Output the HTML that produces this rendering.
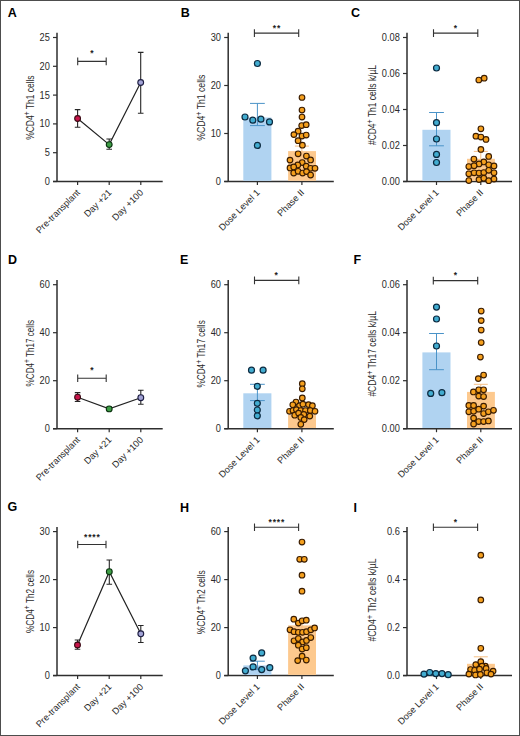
<!DOCTYPE html><html><head><meta charset="utf-8"><style>html,body{margin:0;padding:0;background:#fff}body{width:520px;height:736px;overflow:hidden}svg{display:block}text{font-family:"Liberation Sans",sans-serif}</style></head><body>
<svg width="520" height="736" viewBox="0 0 520 736">
<rect x="0" y="0" width="520" height="736" fill="#fff"/>
<rect x="0.5" y="0.5" width="519" height="735" fill="none" stroke="#4d4d4d" stroke-width="1"/>
<text x="7.7" y="16.8" font-size="12.5" font-weight="bold" fill="#000">A</text>
<text x="180.8" y="16.8" font-size="12.5" font-weight="bold" fill="#000">B</text>
<text x="351" y="16.9" font-size="12.5" font-weight="bold" fill="#000">C</text>
<text x="8" y="264.1" font-size="12.5" font-weight="bold" fill="#000">D</text>
<text x="180" y="264.3" font-size="12.5" font-weight="bold" fill="#000">E</text>
<text x="353.4" y="264.2" font-size="12.5" font-weight="bold" fill="#000">F</text>
<text x="7.5" y="511.3" font-size="12.5" font-weight="bold" fill="#000">G</text>
<text x="180" y="511.7" font-size="12.5" font-weight="bold" fill="#000">H</text>
<text x="353.6" y="511.7" font-size="12.5" font-weight="bold" fill="#000">I</text>
<line x1="57" y1="181.5" x2="57" y2="32.8" stroke="#2e2e2e" stroke-width="1.5"/>
<line x1="53" y1="181.5" x2="162.7" y2="181.5" stroke="#2e2e2e" stroke-width="1.5"/>
<line x1="53" y1="181.5" x2="57" y2="181.5" stroke="#2e2e2e" stroke-width="1.2"/>
<text x="49.8" y="185" text-anchor="end" font-size="10.2" fill="#2a2a2a" textLength="5.14" lengthAdjust="spacingAndGlyphs">0</text>
<line x1="53" y1="152.7" x2="57" y2="152.7" stroke="#2e2e2e" stroke-width="1.2"/>
<text x="49.8" y="156.2" text-anchor="end" font-size="10.2" fill="#2a2a2a" textLength="5.14" lengthAdjust="spacingAndGlyphs">5</text>
<line x1="53" y1="123.9" x2="57" y2="123.9" stroke="#2e2e2e" stroke-width="1.2"/>
<text x="49.8" y="127.4" text-anchor="end" font-size="10.2" fill="#2a2a2a" textLength="10.29" lengthAdjust="spacingAndGlyphs">10</text>
<line x1="53" y1="95.1" x2="57" y2="95.1" stroke="#2e2e2e" stroke-width="1.2"/>
<text x="49.8" y="98.6" text-anchor="end" font-size="10.2" fill="#2a2a2a" textLength="10.29" lengthAdjust="spacingAndGlyphs">15</text>
<line x1="53" y1="66.3" x2="57" y2="66.3" stroke="#2e2e2e" stroke-width="1.2"/>
<text x="49.8" y="69.8" text-anchor="end" font-size="10.2" fill="#2a2a2a" textLength="10.29" lengthAdjust="spacingAndGlyphs">20</text>
<line x1="53" y1="37.5" x2="57" y2="37.5" stroke="#2e2e2e" stroke-width="1.2"/>
<text x="49.8" y="41" text-anchor="end" font-size="10.2" fill="#2a2a2a" textLength="10.29" lengthAdjust="spacingAndGlyphs">25</text>
<line x1="77.6" y1="181.5" x2="77.6" y2="185" stroke="#2e2e2e" stroke-width="1.2"/>
<line x1="109.2" y1="181.5" x2="109.2" y2="185" stroke="#2e2e2e" stroke-width="1.2"/>
<line x1="140.8" y1="181.5" x2="140.8" y2="185" stroke="#2e2e2e" stroke-width="1.2"/>
<text x="80.6" y="193.2" text-anchor="end" font-size="9.2" fill="#2a2a2a" transform="rotate(-45 80.6 193.2)">Pre-transplant</text>
<text x="112.2" y="193.2" text-anchor="end" font-size="9.2" fill="#2a2a2a" transform="rotate(-45 112.2 193.2)">Day +21</text>
<text x="143.8" y="193.2" text-anchor="end" font-size="9.2" fill="#2a2a2a" transform="rotate(-45 143.8 193.2)">Day +100</text>
<text x="33.8" y="107.6" text-anchor="middle" font-size="10.5" fill="#2a2a2a" textLength="64.4" lengthAdjust="spacingAndGlyphs" transform="rotate(-90 33.8 107.6)">%CD4<tspan font-size="8.5" dy="-3.4">+</tspan><tspan dy="3.4"> Th1 cells</tspan></text>
<path d="M77.7 57.6V65.2M77.7 61.4H106.2M106.2 57.6V65.2" stroke="#333" stroke-width="1.1" fill="none"/>
<text x="92" y="56.3" text-anchor="middle" font-size="8.5" font-weight="bold" fill="#222">*</text>
<polyline points="77.6,118.5 109.2,144.6 140.7,82.5" fill="none" stroke="#222" stroke-width="1.2"/>
<path d="M77.6 109.6V127.3M74.8 109.6H80.4M74.8 127.3H80.4" stroke="#262626" stroke-width="1.1" fill="none"/>
<path d="M109.2 139V149.2M106.4 139H112M106.4 149.2H112" stroke="#262626" stroke-width="1.1" fill="none"/>
<path d="M140.7 52.4V113.3M137.9 52.4H143.5M137.9 113.3H143.5" stroke="#262626" stroke-width="1.1" fill="none"/>
<circle cx="77.6" cy="118.5" r="2.9" fill="#c8154a" stroke="#3a0a14" stroke-width="1.1"/>
<circle cx="109.2" cy="144.6" r="2.9" fill="#3e9e46" stroke="#0b3310" stroke-width="1.1"/>
<circle cx="140.7" cy="82.5" r="2.9" fill="#a2a3d6" stroke="#1c1c40" stroke-width="1.1"/>
<line x1="57" y1="428.7" x2="57" y2="280" stroke="#2e2e2e" stroke-width="1.5"/>
<line x1="53" y1="428.7" x2="162.7" y2="428.7" stroke="#2e2e2e" stroke-width="1.5"/>
<line x1="53" y1="428.7" x2="57" y2="428.7" stroke="#2e2e2e" stroke-width="1.2"/>
<text x="49.8" y="432.2" text-anchor="end" font-size="10.2" fill="#2a2a2a" textLength="5.14" lengthAdjust="spacingAndGlyphs">0</text>
<line x1="53" y1="380.7" x2="57" y2="380.7" stroke="#2e2e2e" stroke-width="1.2"/>
<text x="49.8" y="384.2" text-anchor="end" font-size="10.2" fill="#2a2a2a" textLength="10.29" lengthAdjust="spacingAndGlyphs">20</text>
<line x1="53" y1="332.7" x2="57" y2="332.7" stroke="#2e2e2e" stroke-width="1.2"/>
<text x="49.8" y="336.2" text-anchor="end" font-size="10.2" fill="#2a2a2a" textLength="10.29" lengthAdjust="spacingAndGlyphs">40</text>
<line x1="53" y1="284.7" x2="57" y2="284.7" stroke="#2e2e2e" stroke-width="1.2"/>
<text x="49.8" y="288.2" text-anchor="end" font-size="10.2" fill="#2a2a2a" textLength="10.29" lengthAdjust="spacingAndGlyphs">60</text>
<line x1="77.6" y1="428.7" x2="77.6" y2="432.2" stroke="#2e2e2e" stroke-width="1.2"/>
<line x1="109.2" y1="428.7" x2="109.2" y2="432.2" stroke="#2e2e2e" stroke-width="1.2"/>
<line x1="140.8" y1="428.7" x2="140.8" y2="432.2" stroke="#2e2e2e" stroke-width="1.2"/>
<text x="80.6" y="440.4" text-anchor="end" font-size="9.2" fill="#2a2a2a" transform="rotate(-45 80.6 440.4)">Pre-transplant</text>
<text x="112.2" y="440.4" text-anchor="end" font-size="9.2" fill="#2a2a2a" transform="rotate(-45 112.2 440.4)">Day +21</text>
<text x="143.8" y="440.4" text-anchor="end" font-size="9.2" fill="#2a2a2a" transform="rotate(-45 143.8 440.4)">Day +100</text>
<text x="33.8" y="353.2" text-anchor="middle" font-size="10.5" fill="#2a2a2a" textLength="66.4" lengthAdjust="spacingAndGlyphs" transform="rotate(-90 33.8 353.2)">%CD4<tspan font-size="8.5" dy="-3.4">+</tspan><tspan dy="3.4"> Th17 cells</tspan></text>
<path d="M77.7 374.4V382M77.7 378.2H106.2M106.2 374.4V382" stroke="#333" stroke-width="1.1" fill="none"/>
<text x="92" y="373.2" text-anchor="middle" font-size="8.5" font-weight="bold" fill="#222">*</text>
<polyline points="77.6,397.2 109.2,408.9 140.8,397.7" fill="none" stroke="#222" stroke-width="1.2"/>
<path d="M77.6 392.6V401.5M74.8 392.6H80.4M74.8 401.5H80.4" stroke="#262626" stroke-width="1.1" fill="none"/>
<path d="M109.2 407.2V410.6M106.4 407.2H112M106.4 410.6H112" stroke="#262626" stroke-width="1.1" fill="none"/>
<path d="M140.8 390.3V404.3M138 390.3H143.6M138 404.3H143.6" stroke="#262626" stroke-width="1.1" fill="none"/>
<circle cx="77.6" cy="397.2" r="2.9" fill="#c8154a" stroke="#3a0a14" stroke-width="1.1"/>
<circle cx="109.2" cy="408.9" r="2.9" fill="#3e9e46" stroke="#0b3310" stroke-width="1.1"/>
<circle cx="140.8" cy="397.7" r="2.9" fill="#a2a3d6" stroke="#1c1c40" stroke-width="1.1"/>
<line x1="57" y1="675.6" x2="57" y2="526.9" stroke="#2e2e2e" stroke-width="1.5"/>
<line x1="53" y1="675.6" x2="162.7" y2="675.6" stroke="#2e2e2e" stroke-width="1.5"/>
<line x1="53" y1="675.6" x2="57" y2="675.6" stroke="#2e2e2e" stroke-width="1.2"/>
<text x="49.8" y="679.1" text-anchor="end" font-size="10.2" fill="#2a2a2a" textLength="5.14" lengthAdjust="spacingAndGlyphs">0</text>
<line x1="53" y1="627.6" x2="57" y2="627.6" stroke="#2e2e2e" stroke-width="1.2"/>
<text x="49.8" y="631.1" text-anchor="end" font-size="10.2" fill="#2a2a2a" textLength="10.29" lengthAdjust="spacingAndGlyphs">10</text>
<line x1="53" y1="579.6" x2="57" y2="579.6" stroke="#2e2e2e" stroke-width="1.2"/>
<text x="49.8" y="583.1" text-anchor="end" font-size="10.2" fill="#2a2a2a" textLength="10.29" lengthAdjust="spacingAndGlyphs">20</text>
<line x1="53" y1="531.6" x2="57" y2="531.6" stroke="#2e2e2e" stroke-width="1.2"/>
<text x="49.8" y="535.1" text-anchor="end" font-size="10.2" fill="#2a2a2a" textLength="10.29" lengthAdjust="spacingAndGlyphs">30</text>
<line x1="77.6" y1="675.6" x2="77.6" y2="679.1" stroke="#2e2e2e" stroke-width="1.2"/>
<line x1="109.2" y1="675.6" x2="109.2" y2="679.1" stroke="#2e2e2e" stroke-width="1.2"/>
<line x1="140.8" y1="675.6" x2="140.8" y2="679.1" stroke="#2e2e2e" stroke-width="1.2"/>
<text x="80.6" y="687.3" text-anchor="end" font-size="9.2" fill="#2a2a2a" transform="rotate(-45 80.6 687.3)">Pre-transplant</text>
<text x="112.2" y="687.3" text-anchor="end" font-size="9.2" fill="#2a2a2a" transform="rotate(-45 112.2 687.3)">Day +21</text>
<text x="143.8" y="687.3" text-anchor="end" font-size="9.2" fill="#2a2a2a" transform="rotate(-45 143.8 687.3)">Day +100</text>
<text x="33.8" y="601.5" text-anchor="middle" font-size="10.5" fill="#2a2a2a" textLength="63.1" lengthAdjust="spacingAndGlyphs" transform="rotate(-90 33.8 601.5)">%CD4<tspan font-size="8.5" dy="-3.4">+</tspan><tspan dy="3.4"> Th2 cells</tspan></text>
<path d="M77.7 540.7V548.3M77.7 544.5H106M106 540.7V548.3" stroke="#333" stroke-width="1.1" fill="none"/>
<text x="85.68" y="539.6" text-anchor="middle" font-size="8.5" font-weight="bold" fill="#222">*</text>
<text x="89.83" y="539.6" text-anchor="middle" font-size="8.5" font-weight="bold" fill="#222">*</text>
<text x="93.98" y="539.6" text-anchor="middle" font-size="8.5" font-weight="bold" fill="#222">*</text>
<text x="98.12" y="539.6" text-anchor="middle" font-size="8.5" font-weight="bold" fill="#222">*</text>
<polyline points="77.5,645 109.3,571.7 140.8,633.8" fill="none" stroke="#222" stroke-width="1.2"/>
<path d="M77.5 640V649.3M74.7 640H80.3M74.7 649.3H80.3" stroke="#262626" stroke-width="1.1" fill="none"/>
<path d="M109.3 560V584.2M106.5 560H112.1M106.5 584.2H112.1" stroke="#262626" stroke-width="1.1" fill="none"/>
<path d="M140.8 625.5V642.5M138 625.5H143.6M138 642.5H143.6" stroke="#262626" stroke-width="1.1" fill="none"/>
<circle cx="77.5" cy="645" r="2.9" fill="#c8154a" stroke="#3a0a14" stroke-width="1.1"/>
<circle cx="109.3" cy="571.7" r="2.9" fill="#3e9e46" stroke="#0b3310" stroke-width="1.1"/>
<circle cx="140.8" cy="633.8" r="2.9" fill="#a2a3d6" stroke="#1c1c40" stroke-width="1.1"/>
<line x1="228.2" y1="181.5" x2="228.2" y2="32.8" stroke="#2e2e2e" stroke-width="1.5"/>
<line x1="224.2" y1="181.5" x2="333.8" y2="181.5" stroke="#2e2e2e" stroke-width="1.5"/>
<line x1="224.2" y1="181.5" x2="228.2" y2="181.5" stroke="#2e2e2e" stroke-width="1.2"/>
<text x="221" y="185" text-anchor="end" font-size="10.2" fill="#2a2a2a" textLength="5.14" lengthAdjust="spacingAndGlyphs">0</text>
<line x1="224.2" y1="133.5" x2="228.2" y2="133.5" stroke="#2e2e2e" stroke-width="1.2"/>
<text x="221" y="137" text-anchor="end" font-size="10.2" fill="#2a2a2a" textLength="10.29" lengthAdjust="spacingAndGlyphs">10</text>
<line x1="224.2" y1="85.5" x2="228.2" y2="85.5" stroke="#2e2e2e" stroke-width="1.2"/>
<text x="221" y="89" text-anchor="end" font-size="10.2" fill="#2a2a2a" textLength="10.29" lengthAdjust="spacingAndGlyphs">20</text>
<line x1="224.2" y1="37.5" x2="228.2" y2="37.5" stroke="#2e2e2e" stroke-width="1.2"/>
<text x="221" y="41" text-anchor="end" font-size="10.2" fill="#2a2a2a" textLength="10.29" lengthAdjust="spacingAndGlyphs">30</text>
<line x1="257.4" y1="181.5" x2="257.4" y2="185" stroke="#2e2e2e" stroke-width="1.2"/>
<line x1="301.9" y1="181.5" x2="301.9" y2="185" stroke="#2e2e2e" stroke-width="1.2"/>
<text x="260.4" y="193.2" text-anchor="end" font-size="9.2" fill="#2a2a2a" transform="rotate(-45 260.4 193.2)">Dose Level 1</text>
<text x="304.9" y="193.2" text-anchor="end" font-size="9.2" fill="#2a2a2a" transform="rotate(-45 304.9 193.2)">Phase II</text>
<text x="205" y="107.7" text-anchor="middle" font-size="10.5" fill="#2a2a2a" textLength="66.2" lengthAdjust="spacingAndGlyphs" transform="rotate(-90 205 107.7)">%CD4<tspan font-size="8.5" dy="-3.4">+</tspan><tspan dy="3.4"> Th1 cells</tspan></text>
<path d="M254.4 29.3V36.9M254.4 33.1H298.7M298.7 29.3V36.9" stroke="#333" stroke-width="1.1" fill="none"/>
<text x="274.43" y="30.6" text-anchor="middle" font-size="8.5" font-weight="bold" fill="#222">*</text>
<text x="278.57" y="30.6" text-anchor="middle" font-size="8.5" font-weight="bold" fill="#222">*</text>
<rect x="243.3" y="117.5" width="28.1" height="63.3" fill="#b0d3f1"/>
<rect x="288.1" y="151.1" width="27.9" height="29.7" fill="#fdc98e"/>
<path d="M257.4 103.4V125.6M250 103.4H264.8M250 125.6H264.8" stroke="#4a93c8" stroke-width="1.0" fill="none"/>
<path d="M301.9 146.1V156M294.9 146.1H308.9M294.9 156H308.9" stroke="#f6bf84" stroke-width="1.0" fill="none"/>
<circle cx="257.4" cy="63.5" r="3.0" fill="#42acd0" stroke="#0c2a40" stroke-width="1.2"/>
<circle cx="245" cy="117" r="3.0" fill="#42acd0" stroke="#0c2a40" stroke-width="1.2"/>
<circle cx="252.8" cy="120.2" r="3.0" fill="#42acd0" stroke="#0c2a40" stroke-width="1.2"/>
<circle cx="260.9" cy="119.2" r="3.0" fill="#42acd0" stroke="#0c2a40" stroke-width="1.2"/>
<circle cx="269.5" cy="121.9" r="3.0" fill="#42acd0" stroke="#0c2a40" stroke-width="1.2"/>
<circle cx="257.4" cy="145.4" r="3.0" fill="#42acd0" stroke="#0c2a40" stroke-width="1.2"/>
<circle cx="302" cy="97.5" r="2.8" fill="#f5a01e" stroke="#3a1c00" stroke-width="1.15"/>
<circle cx="302" cy="110.1" r="2.8" fill="#f5a01e" stroke="#3a1c00" stroke-width="1.15"/>
<circle cx="302" cy="117.1" r="2.8" fill="#f5a01e" stroke="#3a1c00" stroke-width="1.15"/>
<circle cx="301.7" cy="125.5" r="2.8" fill="#f5a01e" stroke="#3a1c00" stroke-width="1.15"/>
<circle cx="306.2" cy="124.7" r="2.8" fill="#f5a01e" stroke="#3a1c00" stroke-width="1.15"/>
<circle cx="298.1" cy="131.2" r="2.8" fill="#f5a01e" stroke="#3a1c00" stroke-width="1.15"/>
<circle cx="293.9" cy="134.6" r="2.8" fill="#f5a01e" stroke="#3a1c00" stroke-width="1.15"/>
<circle cx="302" cy="136" r="2.8" fill="#f5a01e" stroke="#3a1c00" stroke-width="1.15"/>
<circle cx="306.2" cy="135" r="2.8" fill="#f5a01e" stroke="#3a1c00" stroke-width="1.15"/>
<circle cx="298.1" cy="140.7" r="2.8" fill="#f5a01e" stroke="#3a1c00" stroke-width="1.15"/>
<circle cx="302.4" cy="145.2" r="2.8" fill="#f5a01e" stroke="#3a1c00" stroke-width="1.15"/>
<circle cx="298.1" cy="153.8" r="2.8" fill="#f5a01e" stroke="#3a1c00" stroke-width="1.15"/>
<circle cx="306.4" cy="156" r="2.8" fill="#f5a01e" stroke="#3a1c00" stroke-width="1.15"/>
<circle cx="290" cy="160.1" r="2.8" fill="#f5a01e" stroke="#3a1c00" stroke-width="1.15"/>
<circle cx="310.6" cy="159.9" r="2.8" fill="#f5a01e" stroke="#3a1c00" stroke-width="1.15"/>
<circle cx="302.2" cy="162.5" r="2.8" fill="#f5a01e" stroke="#3a1c00" stroke-width="1.15"/>
<circle cx="297.8" cy="164.9" r="2.8" fill="#f5a01e" stroke="#3a1c00" stroke-width="1.15"/>
<circle cx="306.2" cy="166.2" r="2.8" fill="#f5a01e" stroke="#3a1c00" stroke-width="1.15"/>
<circle cx="290" cy="167.9" r="2.8" fill="#f5a01e" stroke="#3a1c00" stroke-width="1.15"/>
<circle cx="293.7" cy="166.9" r="2.8" fill="#f5a01e" stroke="#3a1c00" stroke-width="1.15"/>
<circle cx="310.6" cy="168.3" r="2.8" fill="#f5a01e" stroke="#3a1c00" stroke-width="1.15"/>
<circle cx="315" cy="168.3" r="2.8" fill="#f5a01e" stroke="#3a1c00" stroke-width="1.15"/>
<circle cx="293.7" cy="173" r="2.8" fill="#f5a01e" stroke="#3a1c00" stroke-width="1.15"/>
<circle cx="298.1" cy="171.3" r="2.8" fill="#f5a01e" stroke="#3a1c00" stroke-width="1.15"/>
<circle cx="302.6" cy="173" r="2.8" fill="#f5a01e" stroke="#3a1c00" stroke-width="1.15"/>
<circle cx="306.5" cy="171.6" r="2.8" fill="#f5a01e" stroke="#3a1c00" stroke-width="1.15"/>
<circle cx="310.6" cy="175" r="2.8" fill="#f5a01e" stroke="#3a1c00" stroke-width="1.15"/>
<line x1="228.2" y1="428.7" x2="228.2" y2="280" stroke="#2e2e2e" stroke-width="1.5"/>
<line x1="224.2" y1="428.7" x2="333.8" y2="428.7" stroke="#2e2e2e" stroke-width="1.5"/>
<line x1="224.2" y1="428.7" x2="228.2" y2="428.7" stroke="#2e2e2e" stroke-width="1.2"/>
<text x="221" y="432.2" text-anchor="end" font-size="10.2" fill="#2a2a2a" textLength="5.14" lengthAdjust="spacingAndGlyphs">0</text>
<line x1="224.2" y1="380.7" x2="228.2" y2="380.7" stroke="#2e2e2e" stroke-width="1.2"/>
<text x="221" y="384.2" text-anchor="end" font-size="10.2" fill="#2a2a2a" textLength="10.29" lengthAdjust="spacingAndGlyphs">20</text>
<line x1="224.2" y1="332.7" x2="228.2" y2="332.7" stroke="#2e2e2e" stroke-width="1.2"/>
<text x="221" y="336.2" text-anchor="end" font-size="10.2" fill="#2a2a2a" textLength="10.29" lengthAdjust="spacingAndGlyphs">40</text>
<line x1="224.2" y1="284.7" x2="228.2" y2="284.7" stroke="#2e2e2e" stroke-width="1.2"/>
<text x="221" y="288.2" text-anchor="end" font-size="10.2" fill="#2a2a2a" textLength="10.29" lengthAdjust="spacingAndGlyphs">60</text>
<line x1="257.4" y1="428.7" x2="257.4" y2="432.2" stroke="#2e2e2e" stroke-width="1.2"/>
<line x1="301.9" y1="428.7" x2="301.9" y2="432.2" stroke="#2e2e2e" stroke-width="1.2"/>
<text x="260.4" y="440.4" text-anchor="end" font-size="9.2" fill="#2a2a2a" transform="rotate(-45 260.4 440.4)">Dose Level 1</text>
<text x="304.9" y="440.4" text-anchor="end" font-size="9.2" fill="#2a2a2a" transform="rotate(-45 304.9 440.4)">Phase II</text>
<text x="205" y="353.9" text-anchor="middle" font-size="10.5" fill="#2a2a2a" textLength="67.4" lengthAdjust="spacingAndGlyphs" transform="rotate(-90 205 353.9)">%CD4<tspan font-size="8.5" dy="-3.4">+</tspan><tspan dy="3.4"> Th17 cells</tspan></text>
<path d="M254.5 276.6V284.2M254.5 280.4H298.8M298.8 276.6V284.2" stroke="#333" stroke-width="1.1" fill="none"/>
<text x="276.2" y="277.9" text-anchor="middle" font-size="8.5" font-weight="bold" fill="#222">*</text>
<rect x="243.3" y="393.3" width="28.1" height="34.7" fill="#b0d3f1"/>
<rect x="288.1" y="415" width="27.9" height="13" fill="#fdc98e"/>
<path d="M257.4 384.3V400.6M250 384.3H264.8M250 400.6H264.8" stroke="#4a93c8" stroke-width="1.0" fill="none"/>
<path d="M301.9 410.5V419M294.9 410.5H308.9M294.9 419H308.9" stroke="#f6bf84" stroke-width="1.0" fill="none"/>
<circle cx="251.5" cy="370.2" r="3.0" fill="#42acd0" stroke="#0c2a40" stroke-width="1.2"/>
<circle cx="263.1" cy="370.2" r="3.0" fill="#42acd0" stroke="#0c2a40" stroke-width="1.2"/>
<circle cx="257.3" cy="386.3" r="3.0" fill="#42acd0" stroke="#0c2a40" stroke-width="1.2"/>
<circle cx="257.3" cy="403.3" r="3.0" fill="#42acd0" stroke="#0c2a40" stroke-width="1.2"/>
<circle cx="257.3" cy="410" r="3.0" fill="#42acd0" stroke="#0c2a40" stroke-width="1.2"/>
<circle cx="257.3" cy="415.8" r="3.0" fill="#42acd0" stroke="#0c2a40" stroke-width="1.2"/>
<circle cx="302.3" cy="383.7" r="2.8" fill="#f5a01e" stroke="#3a1c00" stroke-width="1.15"/>
<circle cx="302.3" cy="388.8" r="2.8" fill="#f5a01e" stroke="#3a1c00" stroke-width="1.15"/>
<circle cx="302.3" cy="397.9" r="2.8" fill="#f5a01e" stroke="#3a1c00" stroke-width="1.15"/>
<circle cx="296" cy="402" r="2.8" fill="#f5a01e" stroke="#3a1c00" stroke-width="1.15"/>
<circle cx="292.8" cy="404.8" r="2.8" fill="#f5a01e" stroke="#3a1c00" stroke-width="1.15"/>
<circle cx="299.5" cy="405.7" r="2.8" fill="#f5a01e" stroke="#3a1c00" stroke-width="1.15"/>
<circle cx="302.9" cy="404.2" r="2.8" fill="#f5a01e" stroke="#3a1c00" stroke-width="1.15"/>
<circle cx="308.5" cy="404.6" r="2.8" fill="#f5a01e" stroke="#3a1c00" stroke-width="1.15"/>
<circle cx="312.4" cy="405.7" r="2.8" fill="#f5a01e" stroke="#3a1c00" stroke-width="1.15"/>
<circle cx="289.5" cy="411.3" r="2.8" fill="#f5a01e" stroke="#3a1c00" stroke-width="1.15"/>
<circle cx="293" cy="410.5" r="2.8" fill="#f5a01e" stroke="#3a1c00" stroke-width="1.15"/>
<circle cx="296.4" cy="409.6" r="2.8" fill="#f5a01e" stroke="#3a1c00" stroke-width="1.15"/>
<circle cx="300.8" cy="410.5" r="2.8" fill="#f5a01e" stroke="#3a1c00" stroke-width="1.15"/>
<circle cx="305.5" cy="410.5" r="2.8" fill="#f5a01e" stroke="#3a1c00" stroke-width="1.15"/>
<circle cx="310.3" cy="410.5" r="2.8" fill="#f5a01e" stroke="#3a1c00" stroke-width="1.15"/>
<circle cx="315" cy="411.3" r="2.8" fill="#f5a01e" stroke="#3a1c00" stroke-width="1.15"/>
<circle cx="294.7" cy="415.2" r="2.8" fill="#f5a01e" stroke="#3a1c00" stroke-width="1.15"/>
<circle cx="298.6" cy="413.1" r="2.8" fill="#f5a01e" stroke="#3a1c00" stroke-width="1.15"/>
<circle cx="303.8" cy="414.4" r="2.8" fill="#f5a01e" stroke="#3a1c00" stroke-width="1.15"/>
<circle cx="309.8" cy="416.1" r="2.8" fill="#f5a01e" stroke="#3a1c00" stroke-width="1.15"/>
<circle cx="300.8" cy="417.4" r="2.8" fill="#f5a01e" stroke="#3a1c00" stroke-width="1.15"/>
<circle cx="304.2" cy="419.6" r="2.8" fill="#f5a01e" stroke="#3a1c00" stroke-width="1.15"/>
<circle cx="300.8" cy="424.3" r="2.8" fill="#f5a01e" stroke="#3a1c00" stroke-width="1.15"/>
<line x1="228.2" y1="675.6" x2="228.2" y2="526.9" stroke="#2e2e2e" stroke-width="1.5"/>
<line x1="224.2" y1="675.6" x2="333.8" y2="675.6" stroke="#2e2e2e" stroke-width="1.5"/>
<line x1="224.2" y1="675.6" x2="228.2" y2="675.6" stroke="#2e2e2e" stroke-width="1.2"/>
<text x="221" y="679.1" text-anchor="end" font-size="10.2" fill="#2a2a2a" textLength="5.14" lengthAdjust="spacingAndGlyphs">0</text>
<line x1="224.2" y1="627.6" x2="228.2" y2="627.6" stroke="#2e2e2e" stroke-width="1.2"/>
<text x="221" y="631.1" text-anchor="end" font-size="10.2" fill="#2a2a2a" textLength="10.29" lengthAdjust="spacingAndGlyphs">20</text>
<line x1="224.2" y1="579.6" x2="228.2" y2="579.6" stroke="#2e2e2e" stroke-width="1.2"/>
<text x="221" y="583.1" text-anchor="end" font-size="10.2" fill="#2a2a2a" textLength="10.29" lengthAdjust="spacingAndGlyphs">40</text>
<line x1="224.2" y1="531.6" x2="228.2" y2="531.6" stroke="#2e2e2e" stroke-width="1.2"/>
<text x="221" y="535.1" text-anchor="end" font-size="10.2" fill="#2a2a2a" textLength="10.29" lengthAdjust="spacingAndGlyphs">60</text>
<line x1="257.4" y1="675.6" x2="257.4" y2="679.1" stroke="#2e2e2e" stroke-width="1.2"/>
<line x1="301.9" y1="675.6" x2="301.9" y2="679.1" stroke="#2e2e2e" stroke-width="1.2"/>
<text x="260.4" y="687.3" text-anchor="end" font-size="9.2" fill="#2a2a2a" transform="rotate(-45 260.4 687.3)">Dose Level 1</text>
<text x="304.9" y="687.3" text-anchor="end" font-size="9.2" fill="#2a2a2a" transform="rotate(-45 304.9 687.3)">Phase II</text>
<text x="205" y="602.2" text-anchor="middle" font-size="10.5" fill="#2a2a2a" textLength="64" lengthAdjust="spacingAndGlyphs" transform="rotate(-90 205 602.2)">%CD4<tspan font-size="8.5" dy="-3.4">+</tspan><tspan dy="3.4"> Th2 cells</tspan></text>
<path d="M254.5 523.5V531.1M254.5 527.3H298.6M298.6 523.5V531.1" stroke="#333" stroke-width="1.1" fill="none"/>
<text x="270.22" y="525.2" text-anchor="middle" font-size="8.5" font-weight="bold" fill="#222">*</text>
<text x="274.38" y="525.2" text-anchor="middle" font-size="8.5" font-weight="bold" fill="#222">*</text>
<text x="278.52" y="525.2" text-anchor="middle" font-size="8.5" font-weight="bold" fill="#222">*</text>
<text x="282.68" y="525.2" text-anchor="middle" font-size="8.5" font-weight="bold" fill="#222">*</text>
<rect x="243.3" y="665.4" width="28.1" height="9.5" fill="#b0d3f1"/>
<rect x="288.1" y="625.4" width="27.9" height="49.5" fill="#fdc98e"/>
<path d="M257.4 661.2V669.6M250 661.2H264.8M250 669.6H264.8" stroke="#4a93c8" stroke-width="1.0" fill="none"/>
<path d="M301.9 620.5V630.3M294.9 620.5H308.9M294.9 630.3H308.9" stroke="#f6bf84" stroke-width="1.0" fill="none"/>
<circle cx="261.7" cy="652.9" r="3.0" fill="#42acd0" stroke="#0c2a40" stroke-width="1.2"/>
<circle cx="253.1" cy="658.1" r="3.0" fill="#42acd0" stroke="#0c2a40" stroke-width="1.2"/>
<circle cx="253.1" cy="666.9" r="3.0" fill="#42acd0" stroke="#0c2a40" stroke-width="1.2"/>
<circle cx="245.4" cy="670.8" r="3.0" fill="#42acd0" stroke="#0c2a40" stroke-width="1.2"/>
<circle cx="261.7" cy="669.6" r="3.0" fill="#42acd0" stroke="#0c2a40" stroke-width="1.2"/>
<circle cx="269.8" cy="667.7" r="3.0" fill="#42acd0" stroke="#0c2a40" stroke-width="1.2"/>
<circle cx="302" cy="542" r="2.8" fill="#f5a01e" stroke="#3a1c00" stroke-width="1.15"/>
<circle cx="299.7" cy="559.3" r="2.8" fill="#f5a01e" stroke="#3a1c00" stroke-width="1.15"/>
<circle cx="304.3" cy="559.3" r="2.8" fill="#f5a01e" stroke="#3a1c00" stroke-width="1.15"/>
<circle cx="302" cy="575.2" r="2.8" fill="#f5a01e" stroke="#3a1c00" stroke-width="1.15"/>
<circle cx="302" cy="591.2" r="2.8" fill="#f5a01e" stroke="#3a1c00" stroke-width="1.15"/>
<circle cx="293.8" cy="619.2" r="2.8" fill="#f5a01e" stroke="#3a1c00" stroke-width="1.15"/>
<circle cx="298.3" cy="623.1" r="2.8" fill="#f5a01e" stroke="#3a1c00" stroke-width="1.15"/>
<circle cx="302.1" cy="620.8" r="2.8" fill="#f5a01e" stroke="#3a1c00" stroke-width="1.15"/>
<circle cx="306.3" cy="620.2" r="2.8" fill="#f5a01e" stroke="#3a1c00" stroke-width="1.15"/>
<circle cx="290" cy="629.8" r="2.8" fill="#f5a01e" stroke="#3a1c00" stroke-width="1.15"/>
<circle cx="294" cy="631.7" r="2.8" fill="#f5a01e" stroke="#3a1c00" stroke-width="1.15"/>
<circle cx="298.3" cy="632.3" r="2.8" fill="#f5a01e" stroke="#3a1c00" stroke-width="1.15"/>
<circle cx="302.5" cy="632.3" r="2.8" fill="#f5a01e" stroke="#3a1c00" stroke-width="1.15"/>
<circle cx="306.5" cy="631.7" r="2.8" fill="#f5a01e" stroke="#3a1c00" stroke-width="1.15"/>
<circle cx="310.8" cy="629.8" r="2.8" fill="#f5a01e" stroke="#3a1c00" stroke-width="1.15"/>
<circle cx="314.6" cy="627.9" r="2.8" fill="#f5a01e" stroke="#3a1c00" stroke-width="1.15"/>
<circle cx="294" cy="640.8" r="2.8" fill="#f5a01e" stroke="#3a1c00" stroke-width="1.15"/>
<circle cx="298.3" cy="638.5" r="2.8" fill="#f5a01e" stroke="#3a1c00" stroke-width="1.15"/>
<circle cx="302.5" cy="641.9" r="2.8" fill="#f5a01e" stroke="#3a1c00" stroke-width="1.15"/>
<circle cx="306.5" cy="640.4" r="2.8" fill="#f5a01e" stroke="#3a1c00" stroke-width="1.15"/>
<circle cx="310.8" cy="637.5" r="2.8" fill="#f5a01e" stroke="#3a1c00" stroke-width="1.15"/>
<circle cx="298.3" cy="645.2" r="2.8" fill="#f5a01e" stroke="#3a1c00" stroke-width="1.15"/>
<circle cx="302.1" cy="649" r="2.8" fill="#f5a01e" stroke="#3a1c00" stroke-width="1.15"/>
<circle cx="306.3" cy="647.7" r="2.8" fill="#f5a01e" stroke="#3a1c00" stroke-width="1.15"/>
<circle cx="302.1" cy="656.2" r="2.8" fill="#f5a01e" stroke="#3a1c00" stroke-width="1.15"/>
<circle cx="297.7" cy="660.6" r="2.8" fill="#f5a01e" stroke="#3a1c00" stroke-width="1.15"/>
<circle cx="306.3" cy="660" r="2.8" fill="#f5a01e" stroke="#3a1c00" stroke-width="1.15"/>
<line x1="407" y1="181.5" x2="407" y2="32.8" stroke="#2e2e2e" stroke-width="1.5"/>
<line x1="403" y1="181.5" x2="512" y2="181.5" stroke="#2e2e2e" stroke-width="1.5"/>
<line x1="403" y1="181.5" x2="407" y2="181.5" stroke="#2e2e2e" stroke-width="1.2"/>
<text x="399.8" y="185" text-anchor="end" font-size="10.2" fill="#2a2a2a" textLength="18" lengthAdjust="spacingAndGlyphs">0.00</text>
<line x1="403" y1="145.5" x2="407" y2="145.5" stroke="#2e2e2e" stroke-width="1.2"/>
<text x="399.8" y="149" text-anchor="end" font-size="10.2" fill="#2a2a2a" textLength="18" lengthAdjust="spacingAndGlyphs">0.02</text>
<line x1="403" y1="109.5" x2="407" y2="109.5" stroke="#2e2e2e" stroke-width="1.2"/>
<text x="399.8" y="113" text-anchor="end" font-size="10.2" fill="#2a2a2a" textLength="18" lengthAdjust="spacingAndGlyphs">0.04</text>
<line x1="403" y1="73.5" x2="407" y2="73.5" stroke="#2e2e2e" stroke-width="1.2"/>
<text x="399.8" y="77" text-anchor="end" font-size="10.2" fill="#2a2a2a" textLength="18" lengthAdjust="spacingAndGlyphs">0.06</text>
<line x1="403" y1="37.5" x2="407" y2="37.5" stroke="#2e2e2e" stroke-width="1.2"/>
<text x="399.8" y="41" text-anchor="end" font-size="10.2" fill="#2a2a2a" textLength="18" lengthAdjust="spacingAndGlyphs">0.08</text>
<line x1="436.5" y1="181.5" x2="436.5" y2="185" stroke="#2e2e2e" stroke-width="1.2"/>
<line x1="480.8" y1="181.5" x2="480.8" y2="185" stroke="#2e2e2e" stroke-width="1.2"/>
<text x="439.5" y="193.2" text-anchor="end" font-size="9.2" fill="#2a2a2a" transform="rotate(-45 439.5 193.2)">Dose Level 1</text>
<text x="483.8" y="193.2" text-anchor="end" font-size="9.2" fill="#2a2a2a" transform="rotate(-45 483.8 193.2)">Phase II</text>
<text x="376" y="105" text-anchor="middle" font-size="10" fill="#2a2a2a" textLength="79.9" lengthAdjust="spacingAndGlyphs" transform="rotate(-90 376 105)">#CD4<tspan font-size="8.5" dy="-3.4">+</tspan><tspan dy="3.4"> Th1 cells k/µL</tspan></text>
<path d="M433.5 29.3V36.9M433.5 33.1H477.8M477.8 29.3V36.9" stroke="#333" stroke-width="1.1" fill="none"/>
<text x="455.3" y="30.5" text-anchor="middle" font-size="8.5" font-weight="bold" fill="#222">*</text>
<rect x="422.4" y="129.8" width="28.1" height="51" fill="#b0d3f1"/>
<rect x="467" y="158.8" width="27.9" height="22" fill="#fdc98e"/>
<path d="M436.5 112.5V145.8M429.1 112.5H443.9M429.1 145.8H443.9" stroke="#4a93c8" stroke-width="1.0" fill="none"/>
<path d="M480.8 151.4V166.2M473.8 151.4H487.8M473.8 166.2H487.8" stroke="#f6bf84" stroke-width="1.0" fill="none"/>
<circle cx="436.5" cy="68" r="3.0" fill="#42acd0" stroke="#0c2a40" stroke-width="1.2"/>
<circle cx="436.5" cy="122.7" r="3.0" fill="#42acd0" stroke="#0c2a40" stroke-width="1.2"/>
<circle cx="436.5" cy="139" r="3.0" fill="#42acd0" stroke="#0c2a40" stroke-width="1.2"/>
<circle cx="436.5" cy="154.4" r="3.0" fill="#42acd0" stroke="#0c2a40" stroke-width="1.2"/>
<circle cx="436.5" cy="162.5" r="3.0" fill="#42acd0" stroke="#0c2a40" stroke-width="1.2"/>
<circle cx="478.8" cy="80" r="2.8" fill="#f5a01e" stroke="#3a1c00" stroke-width="1.15"/>
<circle cx="484.2" cy="78.2" r="2.8" fill="#f5a01e" stroke="#3a1c00" stroke-width="1.15"/>
<circle cx="480.9" cy="128.8" r="2.8" fill="#f5a01e" stroke="#3a1c00" stroke-width="1.15"/>
<circle cx="475.9" cy="136.2" r="2.8" fill="#f5a01e" stroke="#3a1c00" stroke-width="1.15"/>
<circle cx="480.9" cy="137" r="2.8" fill="#f5a01e" stroke="#3a1c00" stroke-width="1.15"/>
<circle cx="486" cy="139.4" r="2.8" fill="#f5a01e" stroke="#3a1c00" stroke-width="1.15"/>
<circle cx="480.9" cy="149.4" r="2.8" fill="#f5a01e" stroke="#3a1c00" stroke-width="1.15"/>
<circle cx="488.7" cy="156.4" r="2.8" fill="#f5a01e" stroke="#3a1c00" stroke-width="1.15"/>
<circle cx="473.9" cy="159" r="2.8" fill="#f5a01e" stroke="#3a1c00" stroke-width="1.15"/>
<circle cx="483.8" cy="161.9" r="2.8" fill="#f5a01e" stroke="#3a1c00" stroke-width="1.15"/>
<circle cx="479" cy="163.9" r="2.8" fill="#f5a01e" stroke="#3a1c00" stroke-width="1.15"/>
<circle cx="468.8" cy="166.5" r="2.8" fill="#f5a01e" stroke="#3a1c00" stroke-width="1.15"/>
<circle cx="474.1" cy="165.7" r="2.8" fill="#f5a01e" stroke="#3a1c00" stroke-width="1.15"/>
<circle cx="488.7" cy="164.8" r="2.8" fill="#f5a01e" stroke="#3a1c00" stroke-width="1.15"/>
<circle cx="494" cy="165.9" r="2.8" fill="#f5a01e" stroke="#3a1c00" stroke-width="1.15"/>
<circle cx="468.8" cy="173.8" r="2.8" fill="#f5a01e" stroke="#3a1c00" stroke-width="1.15"/>
<circle cx="474.1" cy="172.8" r="2.8" fill="#f5a01e" stroke="#3a1c00" stroke-width="1.15"/>
<circle cx="479" cy="173" r="2.8" fill="#f5a01e" stroke="#3a1c00" stroke-width="1.15"/>
<circle cx="483.8" cy="172.5" r="2.8" fill="#f5a01e" stroke="#3a1c00" stroke-width="1.15"/>
<circle cx="488.7" cy="170.3" r="2.8" fill="#f5a01e" stroke="#3a1c00" stroke-width="1.15"/>
<circle cx="494" cy="172.8" r="2.8" fill="#f5a01e" stroke="#3a1c00" stroke-width="1.15"/>
<circle cx="468.8" cy="180.5" r="2.8" fill="#f5a01e" stroke="#3a1c00" stroke-width="1.15"/>
<circle cx="479" cy="179.6" r="2.8" fill="#f5a01e" stroke="#3a1c00" stroke-width="1.15"/>
<circle cx="483.8" cy="178.2" r="2.8" fill="#f5a01e" stroke="#3a1c00" stroke-width="1.15"/>
<circle cx="488.7" cy="180.7" r="2.8" fill="#f5a01e" stroke="#3a1c00" stroke-width="1.15"/>
<circle cx="494" cy="179" r="2.8" fill="#f5a01e" stroke="#3a1c00" stroke-width="1.15"/>
<line x1="407" y1="428.7" x2="407" y2="280" stroke="#2e2e2e" stroke-width="1.5"/>
<line x1="403" y1="428.7" x2="512" y2="428.7" stroke="#2e2e2e" stroke-width="1.5"/>
<line x1="403" y1="428.7" x2="407" y2="428.7" stroke="#2e2e2e" stroke-width="1.2"/>
<text x="399.8" y="432.2" text-anchor="end" font-size="10.2" fill="#2a2a2a" textLength="18" lengthAdjust="spacingAndGlyphs">0.00</text>
<line x1="403" y1="380.7" x2="407" y2="380.7" stroke="#2e2e2e" stroke-width="1.2"/>
<text x="399.8" y="384.2" text-anchor="end" font-size="10.2" fill="#2a2a2a" textLength="18" lengthAdjust="spacingAndGlyphs">0.02</text>
<line x1="403" y1="332.7" x2="407" y2="332.7" stroke="#2e2e2e" stroke-width="1.2"/>
<text x="399.8" y="336.2" text-anchor="end" font-size="10.2" fill="#2a2a2a" textLength="18" lengthAdjust="spacingAndGlyphs">0.04</text>
<line x1="403" y1="284.7" x2="407" y2="284.7" stroke="#2e2e2e" stroke-width="1.2"/>
<text x="399.8" y="288.2" text-anchor="end" font-size="10.2" fill="#2a2a2a" textLength="18" lengthAdjust="spacingAndGlyphs">0.06</text>
<line x1="436.5" y1="428.7" x2="436.5" y2="432.2" stroke="#2e2e2e" stroke-width="1.2"/>
<line x1="480.8" y1="428.7" x2="480.8" y2="432.2" stroke="#2e2e2e" stroke-width="1.2"/>
<text x="439.5" y="440.4" text-anchor="end" font-size="9.2" fill="#2a2a2a" transform="rotate(-45 439.5 440.4)">Dose Level 1</text>
<text x="483.8" y="440.4" text-anchor="end" font-size="9.2" fill="#2a2a2a" transform="rotate(-45 483.8 440.4)">Phase II</text>
<text x="376" y="353.8" text-anchor="middle" font-size="10" fill="#2a2a2a" textLength="85.6" lengthAdjust="spacingAndGlyphs" transform="rotate(-90 376 353.8)">#CD4<tspan font-size="8.5" dy="-3.4">+</tspan><tspan dy="3.4"> Th17 cells k/µL</tspan></text>
<path d="M433.3 276.8V284.4M433.3 280.6H477.7M477.7 276.8V284.4" stroke="#333" stroke-width="1.1" fill="none"/>
<text x="455.4" y="277.5" text-anchor="middle" font-size="8.5" font-weight="bold" fill="#222">*</text>
<rect x="422.4" y="352.4" width="28.1" height="75.6" fill="#b0d3f1"/>
<rect x="467" y="391.9" width="27.9" height="36.1" fill="#fdc98e"/>
<path d="M436.5 333.5V369.7M429.1 333.5H443.9M429.1 369.7H443.9" stroke="#4a93c8" stroke-width="1.0" fill="none"/>
<path d="M480.8 384.3V399.5M473.8 384.3H487.8M473.8 399.5H487.8" stroke="#f6bf84" stroke-width="1.0" fill="none"/>
<circle cx="436.5" cy="307.1" r="3.0" fill="#42acd0" stroke="#0c2a40" stroke-width="1.2"/>
<circle cx="436.5" cy="319" r="3.0" fill="#42acd0" stroke="#0c2a40" stroke-width="1.2"/>
<circle cx="436.5" cy="346" r="3.0" fill="#42acd0" stroke="#0c2a40" stroke-width="1.2"/>
<circle cx="430.7" cy="393.4" r="3.0" fill="#42acd0" stroke="#0c2a40" stroke-width="1.2"/>
<circle cx="441.9" cy="392.7" r="3.0" fill="#42acd0" stroke="#0c2a40" stroke-width="1.2"/>
<circle cx="481.2" cy="311" r="2.8" fill="#f5a01e" stroke="#3a1c00" stroke-width="1.15"/>
<circle cx="481.2" cy="320.6" r="2.8" fill="#f5a01e" stroke="#3a1c00" stroke-width="1.15"/>
<circle cx="481.2" cy="330" r="2.8" fill="#f5a01e" stroke="#3a1c00" stroke-width="1.15"/>
<circle cx="481.2" cy="342.5" r="2.8" fill="#f5a01e" stroke="#3a1c00" stroke-width="1.15"/>
<circle cx="480.4" cy="357" r="2.8" fill="#f5a01e" stroke="#3a1c00" stroke-width="1.15"/>
<circle cx="483.6" cy="375" r="2.8" fill="#f5a01e" stroke="#3a1c00" stroke-width="1.15"/>
<circle cx="478.3" cy="378.6" r="2.8" fill="#f5a01e" stroke="#3a1c00" stroke-width="1.15"/>
<circle cx="473.4" cy="391.9" r="2.8" fill="#f5a01e" stroke="#3a1c00" stroke-width="1.15"/>
<circle cx="478.7" cy="389.8" r="2.8" fill="#f5a01e" stroke="#3a1c00" stroke-width="1.15"/>
<circle cx="483.6" cy="389.8" r="2.8" fill="#f5a01e" stroke="#3a1c00" stroke-width="1.15"/>
<circle cx="478.7" cy="396.1" r="2.8" fill="#f5a01e" stroke="#3a1c00" stroke-width="1.15"/>
<circle cx="483.6" cy="396.5" r="2.8" fill="#f5a01e" stroke="#3a1c00" stroke-width="1.15"/>
<circle cx="468.8" cy="405.4" r="2.8" fill="#f5a01e" stroke="#3a1c00" stroke-width="1.15"/>
<circle cx="473.6" cy="405.4" r="2.8" fill="#f5a01e" stroke="#3a1c00" stroke-width="1.15"/>
<circle cx="483.6" cy="406.1" r="2.8" fill="#f5a01e" stroke="#3a1c00" stroke-width="1.15"/>
<circle cx="468.8" cy="411.8" r="2.8" fill="#f5a01e" stroke="#3a1c00" stroke-width="1.15"/>
<circle cx="473.6" cy="411.3" r="2.8" fill="#f5a01e" stroke="#3a1c00" stroke-width="1.15"/>
<circle cx="478.7" cy="409.2" r="2.8" fill="#f5a01e" stroke="#3a1c00" stroke-width="1.15"/>
<circle cx="483.6" cy="413.5" r="2.8" fill="#f5a01e" stroke="#3a1c00" stroke-width="1.15"/>
<circle cx="488.4" cy="411.8" r="2.8" fill="#f5a01e" stroke="#3a1c00" stroke-width="1.15"/>
<circle cx="493.5" cy="410.3" r="2.8" fill="#f5a01e" stroke="#3a1c00" stroke-width="1.15"/>
<circle cx="473.6" cy="418.1" r="2.8" fill="#f5a01e" stroke="#3a1c00" stroke-width="1.15"/>
<circle cx="478.7" cy="421.5" r="2.8" fill="#f5a01e" stroke="#3a1c00" stroke-width="1.15"/>
<circle cx="483.6" cy="421.5" r="2.8" fill="#f5a01e" stroke="#3a1c00" stroke-width="1.15"/>
<circle cx="488.4" cy="420.9" r="2.8" fill="#f5a01e" stroke="#3a1c00" stroke-width="1.15"/>
<circle cx="473.6" cy="424" r="2.8" fill="#f5a01e" stroke="#3a1c00" stroke-width="1.15"/>
<line x1="407" y1="675.6" x2="407" y2="526.9" stroke="#2e2e2e" stroke-width="1.5"/>
<line x1="403" y1="675.6" x2="512" y2="675.6" stroke="#2e2e2e" stroke-width="1.5"/>
<line x1="403" y1="675.6" x2="407" y2="675.6" stroke="#2e2e2e" stroke-width="1.2"/>
<text x="399.8" y="679.1" text-anchor="end" font-size="10.2" fill="#2a2a2a" textLength="12.86" lengthAdjust="spacingAndGlyphs">0.0</text>
<line x1="403" y1="627.6" x2="407" y2="627.6" stroke="#2e2e2e" stroke-width="1.2"/>
<text x="399.8" y="631.1" text-anchor="end" font-size="10.2" fill="#2a2a2a" textLength="12.86" lengthAdjust="spacingAndGlyphs">0.2</text>
<line x1="403" y1="579.6" x2="407" y2="579.6" stroke="#2e2e2e" stroke-width="1.2"/>
<text x="399.8" y="583.1" text-anchor="end" font-size="10.2" fill="#2a2a2a" textLength="12.86" lengthAdjust="spacingAndGlyphs">0.4</text>
<line x1="403" y1="531.6" x2="407" y2="531.6" stroke="#2e2e2e" stroke-width="1.2"/>
<text x="399.8" y="535.1" text-anchor="end" font-size="10.2" fill="#2a2a2a" textLength="12.86" lengthAdjust="spacingAndGlyphs">0.6</text>
<line x1="436.5" y1="675.6" x2="436.5" y2="679.1" stroke="#2e2e2e" stroke-width="1.2"/>
<line x1="480.8" y1="675.6" x2="480.8" y2="679.1" stroke="#2e2e2e" stroke-width="1.2"/>
<text x="439.5" y="687.3" text-anchor="end" font-size="9.2" fill="#2a2a2a" transform="rotate(-45 439.5 687.3)">Dose Level 1</text>
<text x="483.8" y="687.3" text-anchor="end" font-size="9.2" fill="#2a2a2a" transform="rotate(-45 483.8 687.3)">Phase II</text>
<text x="376" y="600" text-anchor="middle" font-size="10" fill="#2a2a2a" textLength="83.1" lengthAdjust="spacingAndGlyphs" transform="rotate(-90 376 600)">#CD4<tspan font-size="8.5" dy="-3.4">+</tspan><tspan dy="3.4"> Th2 cells k/µL</tspan></text>
<path d="M433.4 523.5V531.1M433.4 527.3H477.6M477.6 523.5V531.1" stroke="#333" stroke-width="1.1" fill="none"/>
<text x="455.5" y="524.8" text-anchor="middle" font-size="8.5" font-weight="bold" fill="#222">*</text>
<rect x="422.4" y="674.5" width="28.1" height="0.4" fill="#b0d3f1"/>
<rect x="467" y="663.8" width="27.9" height="11.1" fill="#fdc98e"/>
<path d="M436.5 674V675M429.1 674H443.9M429.1 675H443.9" stroke="#4a93c8" stroke-width="1.0" fill="none"/>
<path d="M480.8 656.8V670M473.8 656.8H487.8M473.8 670H487.8" stroke="#f6bf84" stroke-width="1.0" fill="none"/>
<circle cx="424" cy="674.1" r="3.0" fill="#42acd0" stroke="#0c2a40" stroke-width="1.2"/>
<circle cx="429.7" cy="672.5" r="3.0" fill="#42acd0" stroke="#0c2a40" stroke-width="1.2"/>
<circle cx="435.8" cy="673.6" r="3.0" fill="#42acd0" stroke="#0c2a40" stroke-width="1.2"/>
<circle cx="442" cy="673.6" r="3.0" fill="#42acd0" stroke="#0c2a40" stroke-width="1.2"/>
<circle cx="448.2" cy="674.7" r="3.0" fill="#42acd0" stroke="#0c2a40" stroke-width="1.2"/>
<circle cx="480.8" cy="555.2" r="2.8" fill="#f5a01e" stroke="#3a1c00" stroke-width="1.15"/>
<circle cx="480.8" cy="599.9" r="2.8" fill="#f5a01e" stroke="#3a1c00" stroke-width="1.15"/>
<circle cx="480.8" cy="648.3" r="2.8" fill="#f5a01e" stroke="#3a1c00" stroke-width="1.15"/>
<circle cx="475.8" cy="664.6" r="2.8" fill="#f5a01e" stroke="#3a1c00" stroke-width="1.15"/>
<circle cx="480.8" cy="661.7" r="2.8" fill="#f5a01e" stroke="#3a1c00" stroke-width="1.15"/>
<circle cx="485.3" cy="666.2" r="2.8" fill="#f5a01e" stroke="#3a1c00" stroke-width="1.15"/>
<circle cx="482" cy="666.2" r="2.8" fill="#f5a01e" stroke="#3a1c00" stroke-width="1.15"/>
<circle cx="470.6" cy="669.5" r="2.8" fill="#f5a01e" stroke="#3a1c00" stroke-width="1.15"/>
<circle cx="474.6" cy="670.3" r="2.8" fill="#f5a01e" stroke="#3a1c00" stroke-width="1.15"/>
<circle cx="479.5" cy="669.2" r="2.8" fill="#f5a01e" stroke="#3a1c00" stroke-width="1.15"/>
<circle cx="486.1" cy="668.4" r="2.8" fill="#f5a01e" stroke="#3a1c00" stroke-width="1.15"/>
<circle cx="493.1" cy="671.1" r="2.8" fill="#f5a01e" stroke="#3a1c00" stroke-width="1.15"/>
<circle cx="468.9" cy="674.1" r="2.8" fill="#f5a01e" stroke="#3a1c00" stroke-width="1.15"/>
<circle cx="475.5" cy="674.9" r="2.8" fill="#f5a01e" stroke="#3a1c00" stroke-width="1.15"/>
<circle cx="480.4" cy="674.4" r="2.8" fill="#f5a01e" stroke="#3a1c00" stroke-width="1.15"/>
<circle cx="486.9" cy="672.8" r="2.8" fill="#f5a01e" stroke="#3a1c00" stroke-width="1.15"/>
<circle cx="491" cy="674.1" r="2.8" fill="#f5a01e" stroke="#3a1c00" stroke-width="1.15"/>
</svg></body></html>
